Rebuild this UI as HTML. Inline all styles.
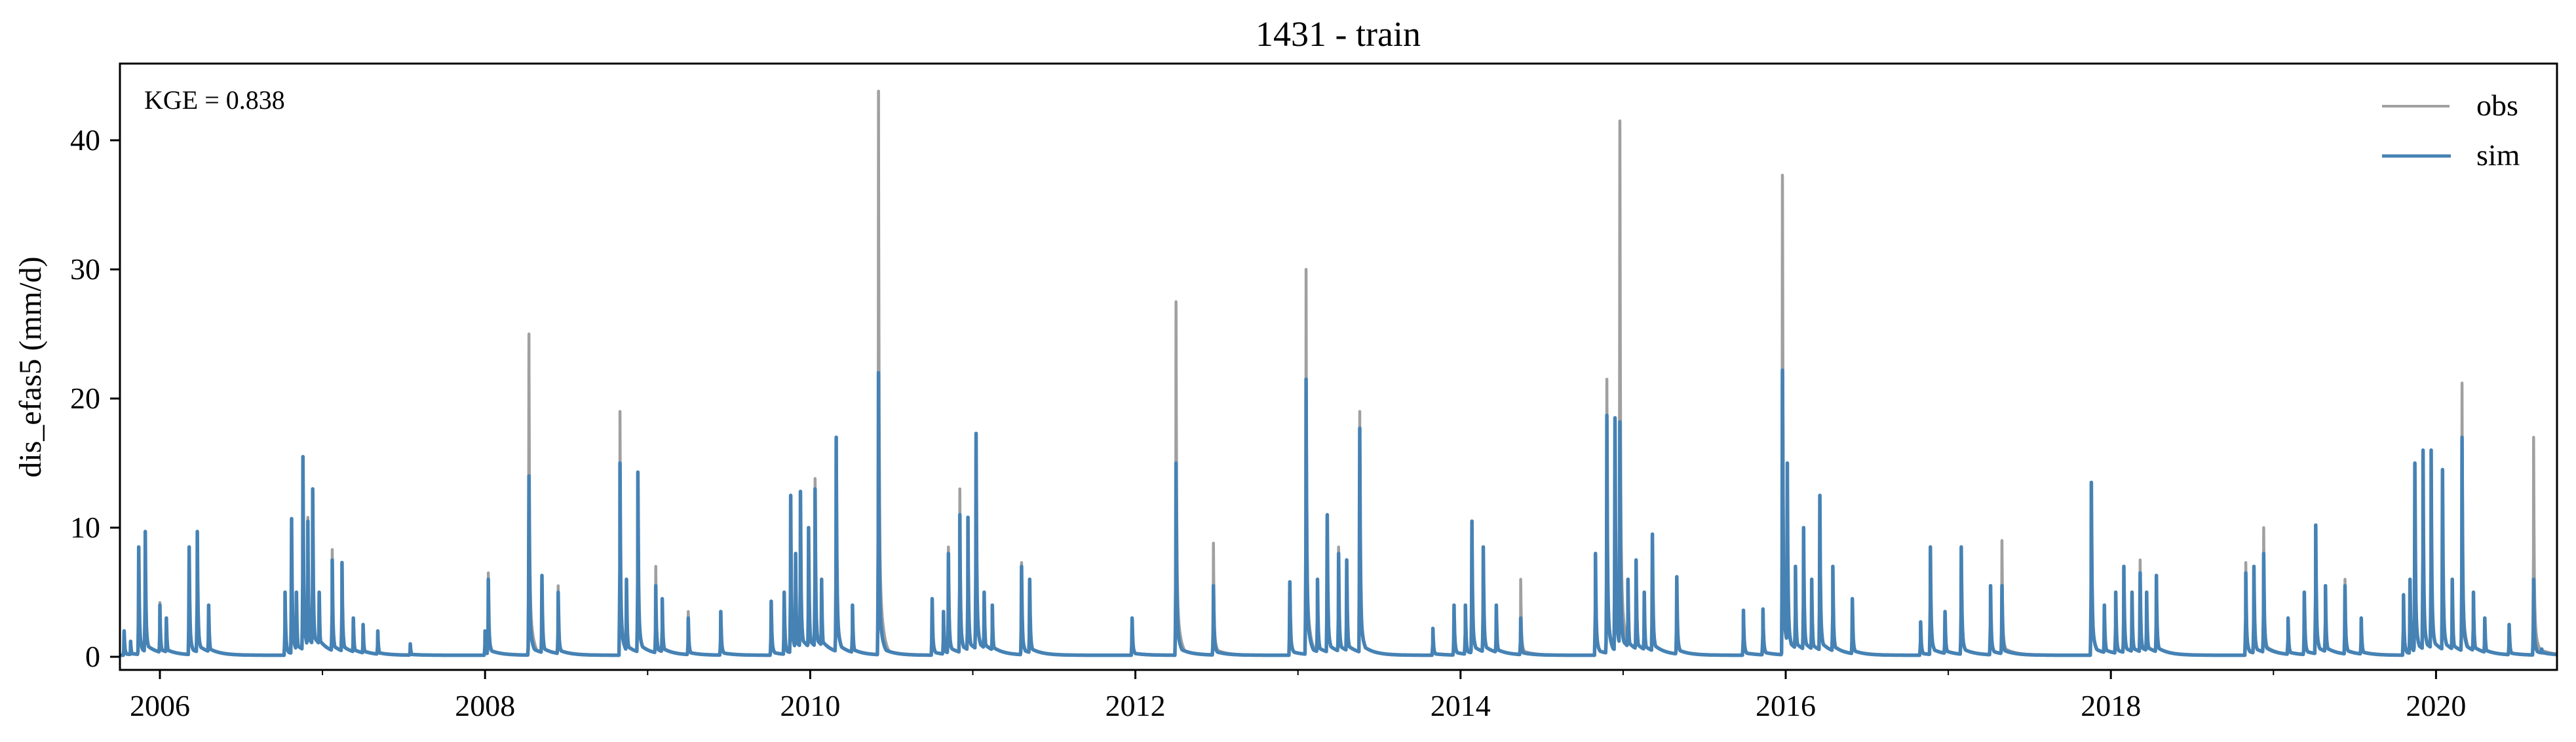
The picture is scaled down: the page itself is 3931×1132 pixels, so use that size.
<!DOCTYPE html>
<html><head><meta charset="utf-8"><title>1431 - train</title>
<style>
html,body{margin:0;padding:0;background:#fff;}
svg{display:block;font-family:"Liberation Serif","DejaVu Serif",serif;}
</style></head>
<body>
<svg id="chart" width="3931" height="1132" viewBox="0 0 3931 1132" xmlns="http://www.w3.org/2000/svg">
<rect width="3931" height="1132" fill="#fff"/>
<text x="2042" y="70" font-size="54" text-anchor="middle">1431 - train</text>
<defs><clipPath id="plotclip"><rect x="183" y="97" width="3719" height="925"/></clipPath></defs>
<g id="series" clip-path="url(#plotclip)"></g>
<g id="axes"></g>
<rect x="183" y="97" width="3719" height="925" fill="none" stroke="#000" stroke-width="3"/>
<text x="220" y="166" font-size="40">KGE = 0.838</text>
<text x="0" y="0" font-size="48" text-anchor="middle" transform="translate(62,560) rotate(-90)">dis_efas5 (mm/d)</text>
<g>
<line x1="3635" y1="162" x2="3738" y2="162" stroke="#a0a0a0" stroke-width="4"/>
<text x="3779" y="176" font-size="46">obs</text>
<line x1="3635" y1="238" x2="3740" y2="238" stroke="#4682b4" stroke-width="5"/>
<text x="3779" y="252" font-size="46">sim</text>
</g>
</svg>
<script>
// event dates (decimal year), sim peaks and obs peaks (mm/d)
const eventDates = [2005.78,2005.82,2005.87,2005.91,2006.0,2006.04,2006.18,2006.23,2006.30,
2006.77,2006.81,2006.84,2006.88,2006.91,2006.94,2006.98,2007.06,2007.12,2007.19,2007.25,2007.34,2007.54,
2008.0,2008.02,2008.27,2008.35,2008.45,2008.83,2008.87,2008.94,2009.05,2009.09,2009.25,2009.45,
2009.76,2009.84,2009.88,2009.91,2009.94,2009.99,2010.03,2010.07,2010.16,2010.26,2010.42,
2010.75,2010.82,2010.85,2010.92,2010.97,2011.02,2011.07,2011.12,2011.30,2011.35,
2011.98,2012.25,2012.48,
2012.95,2013.05,2013.12,2013.18,2013.25,2013.30,2013.38,
2013.83,2013.96,2014.03,2014.07,2014.14,2014.22,2014.37,
2014.83,2014.90,2014.95,2014.98,2015.03,2015.08,2015.13,2015.18,2015.33,
2015.74,2015.86,2015.98,2016.01,2016.06,2016.11,2016.16,2016.21,2016.29,2016.41,
2016.83,2016.89,2016.98,2017.08,2017.26,2017.33,
2017.88,2017.96,2018.03,2018.08,2018.13,2018.18,2018.22,2018.28,
2018.83,2018.88,2018.94,2019.09,2019.19,2019.26,2019.32,2019.44,2019.54,
2019.80,2019.84,2019.87,2019.92,2019.97,2020.04,2020.10,2020.16,2020.23,2020.30,2020.45,2020.60,2020.65];
const simPeaks = [2,1.2,8.5,9.7,4,3,8.5,9.7,4,
5,10.7,5,15.5,10.5,13,5,7.5,7.3,3,2.5,2,1,
2,6,14,6.3,5,15,6,14.3,5.5,4.5,3,3.5,
4.3,5,12.5,8,12.8,10,13,6,17,4,22,
4.5,3.5,8,11,10.8,17.3,5,4,7,6,
3,15,5.5,
5.8,21.5,6,11,8,7.5,17.7,
2.2,4,4,10.5,8.5,4,3,
8,18.7,18.5,18.2,6,7.5,5,9.5,6.2,
3.6,3.7,22.2,15,7,10,6,12.5,7,4.5,
2.7,8.5,3.5,8.5,5.5,5.5,
13.5,4,5,7,5,6.5,5,6.3,
6.5,7,8,3,5,10.2,5.5,5.5,3,
4.8,6,15,16,16,14.5,6,17,5,3,2.5,6,0.6];
const obsPeaks = [2,1.2,8.5,9.7,4.2,3,8.5,9.7,4,
5,10.7,5,15.5,10.8,13,5,8.3,7.3,3,2.5,2,1,
2,6.5,25,6.3,5.5,19,6,14.3,7,4.5,3.5,3.5,
4.3,5,12.5,8,12.8,10,13.8,6,17,4,43.8,
4.5,3.5,8.5,13,10.8,17.3,5,4,7.3,6,
3,27.5,8.8,
5.8,30,6,11,8.5,7.5,19,
2.2,4,4,10.5,8.5,4,6,
8,21.5,18.5,41.5,6,7.5,5,9.5,6.2,
3.6,3.7,37.3,15,7,10,6,12.5,7,4.5,
2.7,8.5,3.5,8.5,5.5,9,
13.5,4,5,7,5,7.5,5,6.3,
7.3,7,10,3,5,10.2,5.5,6,3,
4.8,6,15,16,16,14.5,6,21.2,5,3,2.5,17,0.6];
const yTicks = [0,10,20,30,40];
const xTickYears = [2006,2007,2008,2009,2010,2011,2012,2013,2014,2015,2016,2017,2018,2019,2020];
const xStart = 2005.75, xEnd = 2020.75;

const NS = "http://www.w3.org/2000/svg";
function xs(yr){ return 244 + (yr - 2006) * 248.1; }
function ys(v){ return 1002 - v * 19.7; }

function seriesValue(t, peaks){
  let fast = 0, slow = 0;
  for (let i = 0; i < eventDates.length; i++){
    const dt = (t - eventDates[i]) * 365;
    let c = 0;
    if (dt < 0 && dt > -3) c = peaks[i] * Math.max(0, 1 + dt / 2) * 0.5;
    else if (dt >= 0){
      c = peaks[i] * (0.8 * Math.exp(-dt / 1.3) + 0.2 * Math.exp(-dt / 8));
      slow += 0.06 * Math.min(peaks[i], 12) * Math.exp(-dt / 25);
    }
    if (c > fast) fast = c;
  }
  return Math.max(fast, 0.12 + Math.min(slow, 1.5));
}
function buildPath(peaks){
  const times = [];
  for (let day = 0; day <= 365 * 15; day++) times.push(xStart + day / 365);
  eventDates.forEach(d => times.push(d));
  times.sort((a, b) => a - b);
  let d = "";
  times.forEach((t, k) => {
    const v = seriesValue(t, peaks);
    d += (k ? "L" : "M") + xs(t).toFixed(1) + "," + ys(v).toFixed(1);
  });
  return d;
}
const sg = document.getElementById("series");
const obsPath = document.createElementNS(NS, "path");


obsPath.setAttribute("d", buildPath(obsPeaks));
obsPath.setAttribute("fill", "none");
obsPath.setAttribute("stroke", "#a0a0a0");
obsPath.setAttribute("stroke-width", "4.5");
obsPath.setAttribute("stroke-linejoin", "round");
sg.appendChild(obsPath);
const simPath = document.createElementNS(NS, "path");


simPath.setAttribute("d", buildPath(simPeaks));
simPath.setAttribute("fill", "none");
simPath.setAttribute("stroke", "#4682b4");
simPath.setAttribute("stroke-width", "5.5");
simPath.setAttribute("stroke-linejoin", "round");
sg.appendChild(simPath);

const ag = document.getElementById("axes");
yTicks.forEach(v => {
  const y = ys(v);
  const tk = document.createElementNS(NS, "line");
  
  
  tk.setAttribute("x1", 168); tk.setAttribute("x2", 183);
  tk.setAttribute("y1", y); tk.setAttribute("y2", y);
  tk.setAttribute("stroke", "#000"); tk.setAttribute("stroke-width", "3");
  ag.appendChild(tk);
  const lb = document.createElementNS(NS, "text");
  
  
  lb.setAttribute("x", 153); lb.setAttribute("y", y + 15);
  lb.setAttribute("font-size", "46"); lb.setAttribute("text-anchor", "end");
  lb.textContent = v;
  ag.appendChild(lb);
});
xTickYears.forEach(yr => {
  const x = xs(yr);
  const major = yr % 2 === 0;
  const tk = document.createElementNS(NS, "line");
  
  
  tk.setAttribute("x1", x); tk.setAttribute("x2", x);
  tk.setAttribute("y1", 1022); tk.setAttribute("y2", major ? 1036 : 1030);
  tk.setAttribute("stroke", "#000"); tk.setAttribute("stroke-width", major ? "3" : "2");
  ag.appendChild(tk);
  if (major){
    const lb = document.createElementNS(NS, "text");
    
    
    lb.setAttribute("x", x); lb.setAttribute("y", 1092);
    lb.setAttribute("font-size", "46"); lb.setAttribute("text-anchor", "middle");
    lb.textContent = yr;
    ag.appendChild(lb);
  }
});
</script>
</body></html>
